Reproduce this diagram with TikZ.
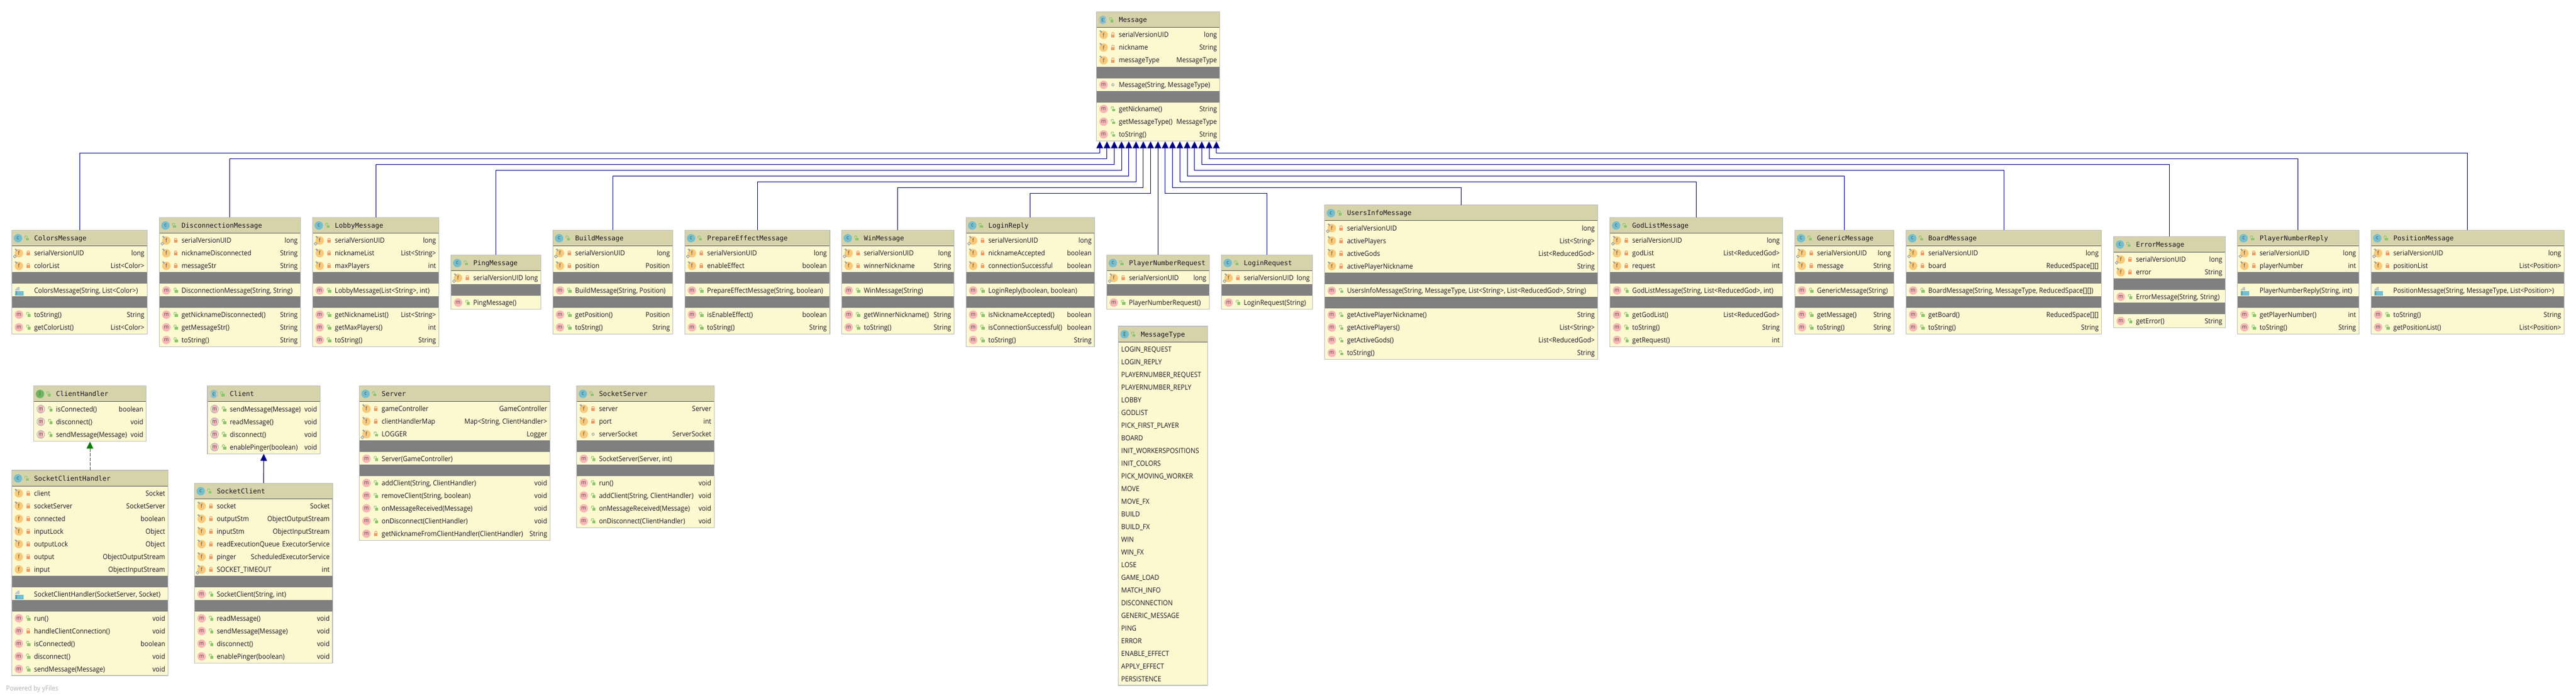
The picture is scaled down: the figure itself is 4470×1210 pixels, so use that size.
\documentclass[tikz,border=0pt]{standalone}
\usepackage{fontspec}
\usetikzlibrary{arrows.meta}
\newfontfamily\rowff[FakeStretch=0.915]{Open Sans}
\newfontfamily\monoff{DejaVu Sans Mono}
\newcommand\rowfont{\rowff\fontsize{12.2}{14}\selectfont}
\newcommand\titlefont{\monoff\fontsize{11.6}{14}\selectfont}
\newcommand\icofont{\rowff\fontsize{9.5}{10}\selectfont}
\definecolor{headc}{HTML}{D6D3AB}
\definecolor{bodyc}{HTML}{FCF9D1}
\definecolor{borderc}{HTML}{BEBEBE}
\definecolor{greyc}{HTML}{808080}
\definecolor{inkc}{HTML}{1A1420}
\definecolor{clsc}{HTML}{74BFCF}
\definecolor{fldc}{HTML}{F9C97A}
\definecolor{mthc}{HTML}{F9B6B6}
\definecolor{ifcc}{HTML}{6FB35F}
\definecolor{privc}{HTML}{F29A63}
\definecolor{pubc}{HTML}{8CC56B}
\definecolor{toolc}{HTML}{9AA0A8}
\definecolor{navyc}{HTML}{000088}
\definecolor{greenc}{HTML}{008000}
\tikzset{
  classbox/.style={draw=borderc,line width=1.4pt,fill=bodyc,inner sep=0pt,outer sep=0pt},
  rowname/.style={font=\rowfont,text=inkc,anchor=base west,inner sep=0pt,outer sep=0pt},
  rowtype/.style={font=\rowfont,text=inkc,anchor=base east,inner sep=0pt,outer sep=0pt},
  titlename/.style={font=\titlefont,text=inkc,anchor=base west,inner sep=0pt,outer sep=0pt},
  iconball/.style={circle,minimum size=14.6pt,inner sep=0pt,outer sep=0pt,font=\icofont,text=black!70},
  inh/.style={draw=navyc,line width=0.9pt,-{Triangle[length=12pt,width=11.5pt,fill=navyc]}},
  impl/.style={draw=greenc,line width=0.9pt,dash pattern=on 6pt off 2pt,-{Triangle[length=12pt,width=11.5pt,fill=greenc]}},
}
\newcounter{tn}
\newcommand\nn{n\arabic{tn}}
\newcommand\stp{\stepcounter{tn}}
% lock icons
\newcommand\Lock[3]{\begin{scope}[shift={(#2,#3)}]%
  \if#1o
    \fill[privc] (-3,-1) rectangle (3,4);
    \draw[privc,line width=1pt] (-2,-1) -- (-2,-3) -- (-1,-4) -- (1,-4) -- (2,-3) -- (2,-1);
  \fi
  \if#1u
    \fill[pubc] (-1.5,-.5) rectangle (4,4);
    \draw[pubc,line width=1pt] (-3,0) -- (-3,-3) -- (-2,-4) -- (0,-4) -- (1,-3) -- (1,-1);
  \fi
  \if#1p
    \draw[toolc,line width=1pt] (0,0) circle (2);
  \fi
\end{scope}}
% round icons
\newcommand\Ball[4]{\stp\node[iconball,fill=#3] (\nn) at (#1,#2) {#4};}
\newcommand\AbsBall[4]{\begin{scope}[shift={(#1,#2)}]
  \clip (0,0) circle (7.3);
  \fill[#3] (-4.3,-8) rectangle (4.3,8);
  \draw[toolc!70,line width=1.4pt] (0,0) circle (6.7);
  \end{scope}
  \stp\node[inner sep=0pt,outer sep=0pt,font=\icofont,text=black!70] (\nn) at (#1,#2) {#4};}
\newcommand\Tool[2]{\begin{scope}[shift={(#1,#2)}]
  \fill[toolc] (-7.5,-7) -- (-5,-8) -- (-2.5,-5) -- (-4,-3.5) -- cycle;
\end{scope}}
\newcommand\Stat[2]{\begin{scope}[shift={(#1,#2)}]
  \draw[toolc,line width=1.1pt] (-7,3) -- (-4.5,5.5) -- (-7,8) -- (-9.5,5.5) -- cycle;
\end{scope}}
\newcommand\JIcon[2]{\begin{scope}[shift={(#1,#2)}]
  \fill[toolc!60] (0,-1) -- (5,-6) -- (8,-6) -- (8,0) -- (0,0) -- cycle;
  \fill[clsc] (0,1) rectangle (15,9);
  \stp\node[inner sep=0pt,outer sep=0pt,font=\fontsize{7}{8}\selectfont\rowff,text=black!80] (\nn) at (3,5) {J};
\end{scope}}
% class box: id, left, top, right, bottom, kind (c a i e), title
\newcommand\ClassBox[7]{%
  \def\xl{#2}\def\xr{#4}%
  \pgfmathsetmacro\bcx{(#2+#4)/2}\pgfmathsetmacro\bcy{(#3+#5)/2}%
  \pgfmathsetmacro\bw{#4-#2}\pgfmathsetmacro\bh{#5-#3}%
  \node[classbox,minimum width=\bw pt,minimum height=\bh pt] (#1) at (\bcx,\bcy) {};
  \fill[headc] ({#2+.6},{#3+.6}) rectangle ({#4-.6},{#3+27});
  \draw[black!65,line width=.9pt] ({#2+.6},{#3+27}) -- ({#4-.6},{#3+27});
  \pgfmathsetmacro\ix{#2+10.8}\pgfmathsetmacro\iy{#3+14}\pgfmathsetmacro\lx{#2+25.6}%
  \if#6c \Ball{\ix}{\iy}{clsc}{c}\fi
  \if#6a \AbsBall{\ix}{\iy}{clsc}{c}\fi
  \if#6i \Ball{\ix}{\iy}{ifcc}{I}\fi
  \if#6e \Ball{\ix}{\iy}{clsc}{E}\fi
  \Lock{u}{\lx}{\iy}
  \pgfmathsetmacro\tx{#2+38.8}\pgfmathsetmacro\ty{#3+18}%
  \stp\node[titlename] (\nn) at (\tx,\ty) {#7};
  \pgfmathsetmacro\cy{#3+29}%
}
\newcommand\RowText[4]{% centre-y, name, type, unused
  \pgfmathsetmacro\tx{\xl+38.8}\pgfmathsetmacro\rx{\xr-5}\pgfmathsetmacro\by{#1+4.4}%
  \stp\node[rowname] (\nn) at (\tx,\by) {#2};
  \stp\node[rowtype] (\nn) at (\rx,\by) {#3};}
% field: mods (s static final, f final, n none), visibility, name, type
\newcommand\F[4]{%
  \pgfmathsetmacro\rc{\cy+11}\pgfmathsetmacro\ix{\xl+12.3}\pgfmathsetmacro\lx{\xl+28.5}%
  \Ball{\ix}{\rc}{fldc}{f}
  \if#1s \Tool{\ix}{\rc}\Stat{\ix}{\rc}\fi
  \if#1f \Tool{\ix}{\rc}\fi
  \Lock{#2}{\lx}{\rc}
  \RowText{\rc}{#3}{#4}{}
  \pgfmathsetmacro\cy{\cy+22}}
% method: visibility (o u p J), name, type; shift of text centre
\newcommand\M[3]{%
  \pgfmathsetmacro\rc{\cy+11.6}\pgfmathsetmacro\ix{\xl+12.3}\pgfmathsetmacro\lx{\xl+28.5}%
  \if#1J \pgfmathsetmacro\jx{\xl+5.5}\JIcon{\jx}{\rc}\else
  \Ball{\ix}{\rc}{mthc}{m}
  \Lock{#1}{\lx}{\rc}\fi
  \RowText{\rc}{#2}{#3}{}
  \pgfmathsetmacro\cy{\cy+22}}
% abstract method
\newcommand\AM[2]{%
  \pgfmathsetmacro\rc{\cy+11.2}\pgfmathsetmacro\ix{\xl+12.3}\pgfmathsetmacro\lx{\xl+28.5}%
  \AbsBall{\ix}{\rc}{mthc}{m}
  \Lock{u}{\lx}{\rc}
  \RowText{\rc}{#1}{#2}{}
  \pgfmathsetmacro\cy{\cy+22}}
\newcommand\G{%
  \fill[greyc] ({\xl+.5},\cy) rectangle ({\xr-.5},{\cy+20});
  \pgfmathsetmacro\cy{\cy+20}}
\newcommand\SV{\F{s}{o}{serialVersionUID}{long}}
\newcommand\EnumRow[1]{%
  \pgfmathsetmacro\rc{\cy+11}\pgfmathsetmacro\tx{\xl+5}\pgfmathsetmacro\by{\rc+4.4}%
  \stp\node[rowname] (\nn) at (\tx,\by) {#1};
  \pgfmathsetmacro\cy{\cy+22}}
\begin{document}
\begin{tikzpicture}[x=1pt,y=-1pt]
\useasboundingbox (0,0) rectangle (4470,1210);
\fill[white] (0,0) rectangle (4470,1210);

% ---- Message
\ClassBox{message}{1902.7}{20.5}{2116.7}{244.5}{a}{Message}
\F{f}{o}{serialVersionUID}{long}\F{f}{o}{nickname}{String}\F{f}{o}{messageType}{MessageType}\G
\M{p}{Message(String, MessageType)}{}\G
\M{u}{getNickname()}{String}\M{u}{getMessageType()}{MessageType}\M{u}{toString()}{String}

% ---- subclasses
\ClassBox{colors}{20.5}{399.3}{255.5}{579.3}{c}{ColorsMessage}
\SV\F{f}{o}{colorList}{List<Color>}\G
\M{J}{ColorsMessage(String, List<Color>)}{}\G
\M{u}{toString()}{String}\M{u}{getColorList()}{List<Color>}

\ClassBox{disconn}{276.3}{377.3}{521.5}{601.3}{c}{DisconnectionMessage}
\SV\F{f}{o}{nicknameDisconnected}{String}\F{f}{o}{messageStr}{String}\G
\M{u}{DisconnectionMessage(String, String)}{}\G
\M{u}{getNicknameDisconnected()}{String}\M{u}{getMessageStr()}{String}\M{u}{toString()}{String}

\ClassBox{lobby}{542.4}{377.3}{761.6}{601.3}{c}{LobbyMessage}
\SV\F{f}{o}{nicknameList}{List<String>}\F{f}{o}{maxPlayers}{int}\G
\M{u}{LobbyMessage(List<String>, int)}{}\G
\M{u}{getNicknameList()}{List<String>}\M{u}{getMaxPlayers()}{int}\M{u}{toString()}{String}

\ClassBox{ping}{782.6}{442.3}{938.4}{536.3}{c}{PingMessage}
\SV\G
\M{u}{PingMessage()}{}

\ClassBox{build}{959.4}{399.3}{1167.4}{579.3}{c}{BuildMessage}
\SV\F{f}{o}{position}{Position}\G
\M{u}{BuildMessage(String, Position)}{}\G
\M{u}{getPosition()}{Position}\M{u}{toString()}{String}

\ClassBox{prepare}{1188.4}{399.3}{1439.8}{579.3}{c}{PrepareEffectMessage}
\SV\F{f}{o}{enableEffect}{boolean}\G
\M{u}{PrepareEffectMessage(String, boolean)}{}\G
\M{u}{isEnableEffect()}{boolean}\M{u}{toString()}{String}

\ClassBox{win}{1460.3}{399.3}{1655.5}{579.3}{c}{WinMessage}
\SV\F{f}{o}{winnerNickname}{String}\G
\M{u}{WinMessage(String)}{}\G
\M{u}{getWinnerNickname()}{String}\M{u}{toString()}{String}

\ClassBox{loginreply}{1676.3}{377.3}{1899.1}{601.3}{c}{LoginReply}
\SV\F{f}{o}{nicknameAccepted}{boolean}\F{f}{o}{connectionSuccessful}{boolean}\G
\M{u}{LoginReply(boolean, boolean)}{}\G
\M{u}{isNicknameAccepted()}{boolean}\M{u}{isConnectionSuccessful()}{boolean}\M{u}{toString()}{String}

\ClassBox{pnrequest}{1920.3}{442.3}{2098.3}{536.3}{c}{PlayerNumberRequest}
\SV\G
\M{u}{PlayerNumberRequest()}{}

\ClassBox{loginrequest}{2119.6}{442.3}{2277.7}{536.3}{c}{LoginRequest}
\SV\G
\M{u}{LoginRequest(String)}{}

\ClassBox{usersinfo}{2298.7}{355.7}{2772.3}{623.7}{c}{UsersInfoMessage}
\SV\F{f}{o}{activePlayers}{List<String>}\F{f}{o}{activeGods}{List<ReducedGod>}\F{f}{o}{activePlayerNickname}{String}\G
\M{u}{UsersInfoMessage(String, MessageType, List<String>, List<ReducedGod>, String)}{}\G
\M{u}{getActivePlayerNickname()}{String}\M{u}{getActivePlayers()}{List<String>}\M{u}{getActiveGods()}{List<ReducedGod>}\M{u}{toString()}{String}

\ClassBox{godlist}{2793.6}{377.3}{3093.3}{601.3}{c}{GodListMessage}
\SV\F{f}{o}{godList}{List<ReducedGod>}\F{f}{o}{request}{int}\G
\M{u}{GodListMessage(String, List<ReducedGod>, int)}{}\G
\M{u}{getGodList()}{List<ReducedGod>}\M{u}{toString()}{String}\M{u}{getRequest()}{int}

\ClassBox{generic}{3114.4}{399.3}{3286.2}{579.3}{c}{GenericMessage}
\SV\F{f}{o}{message}{String}\G
\M{u}{GenericMessage(String)}{}\G
\M{u}{getMessage()}{String}\M{u}{toString()}{String}

\ClassBox{board}{3307.4}{399.3}{3646.6}{579.3}{c}{BoardMessage}
\SV\F{f}{o}{board}{ReducedSpace[][]}\G
\M{u}{BoardMessage(String, MessageType, ReducedSpace[][])}{}\G
\M{u}{getBoard()}{ReducedSpace[][]}\M{u}{toString()}{String}

\ClassBox{errormsg}{3667.7}{410.3}{3861.2}{568.3}{c}{ErrorMessage}
\SV\F{f}{o}{error}{String}\G
\M{u}{ErrorMessage(String, String)}{}\G
\M{u}{getError()}{String}

\ClassBox{pnreply}{3882.3}{399.3}{4093.2}{579.3}{c}{PlayerNumberReply}
\SV\F{f}{o}{playerNumber}{int}\G
\M{J}{PlayerNumberReply(String, int)}{}\G
\M{u}{getPlayerNumber()}{int}\M{u}{toString()}{String}

\ClassBox{positionmsg}{4114.3}{399.3}{4449.3}{579.3}{c}{PositionMessage}
\SV\F{f}{o}{positionList}{List<Position>}\G
\M{J}{PositionMessage(String, MessageType, List<Position>)}{}\G
\M{u}{toString()}{String}\M{u}{getPositionList()}{List<Position>}

% ---- enum
\ClassBox{msgtype}{1940.7}{566}{2095.7}{1189}{e}{MessageType}
\EnumRow{LOGIN\_REQUEST}\EnumRow{LOGIN\_REPLY}\EnumRow{PLAYERNUMBER\_REQUEST}\EnumRow{PLAYERNUMBER\_REPLY}
\EnumRow{LOBBY}\EnumRow{GODLIST}\EnumRow{PICK\_FIRST\_PLAYER}\EnumRow{BOARD}\EnumRow{INIT\_WORKERSPOSITIONS}
\EnumRow{INIT\_COLORS}\EnumRow{PICK\_MOVING\_WORKER}\EnumRow{MOVE}\EnumRow{MOVE\_FX}\EnumRow{BUILD}\EnumRow{BUILD\_FX}
\EnumRow{WIN}\EnumRow{WIN\_FX}\EnumRow{LOSE}\EnumRow{GAME\_LOAD}\EnumRow{MATCH\_INFO}\EnumRow{DISCONNECTION}
\EnumRow{GENERIC\_MESSAGE}\EnumRow{PING}\EnumRow{ERROR}\EnumRow{ENABLE\_EFFECT}\EnumRow{APPLY\_EFFECT}\EnumRow{PERSISTENCE}

% ---- network classes
\ClassBox{clienthandler}{58.6}{669.5}{253.7}{765.5}{i}{ClientHandler}
\AM{isConnected()}{boolean}\AM{disconnect()}{void}\AM{sendMessage(Message)}{void}

\ClassBox{sockethandler}{20.4}{816}{291.6}{1172}{c}{SocketClientHandler}
\F{f}{o}{client}{Socket}\F{f}{o}{socketServer}{SocketServer}\F{n}{o}{connected}{boolean}\F{f}{o}{inputLock}{Object}\F{f}{o}{outputLock}{Object}\F{n}{o}{output}{ObjectOutputStream}\F{n}{o}{input}{ObjectInputStream}\G
\M{J}{SocketClientHandler(SocketServer, Socket)}{}\G
\M{u}{run()}{void}\M{o}{handleClientConnection()}{void}\M{u}{isConnected()}{boolean}\M{u}{disconnect()}{void}\M{u}{sendMessage(Message)}{void}

\ClassBox{client}{360.1}{669.5}{555.3}{787.5}{a}{Client}
\AM{sendMessage(Message)}{void}\AM{readMessage()}{void}\AM{disconnect()}{void}\AM{enablePinger(boolean)}{void}

\ClassBox{socketclient}{337.5}{838.2}{577.1}{1150.2}{c}{SocketClient}
\F{f}{o}{socket}{Socket}\F{f}{o}{outputStm}{ObjectOutputStream}\F{f}{o}{inputStm}{ObjectInputStream}\F{f}{o}{readExecutionQueue}{ExecutorService}\F{f}{o}{pinger}{ScheduledExecutorService}\F{s}{o}{SOCKET\_TIMEOUT}{int}\G
\M{u}{SocketClient(String, int)}{}\G
\M{u}{readMessage()}{void}\M{u}{sendMessage(Message)}{void}\M{u}{disconnect()}{void}\M{u}{enablePinger(boolean)}{void}

\ClassBox{server}{623.6}{669.3}{954.4}{937.3}{c}{Server}
\F{f}{o}{gameController}{GameController}\F{f}{o}{clientHandlerMap}{Map<String, ClientHandler>}\F{s}{u}{LOGGER}{Logger}\G
\M{u}{Server(GameController)}{}\G
\M{u}{addClient(String, ClientHandler)}{void}\M{u}{removeClient(String, boolean)}{void}\M{u}{onMessageReceived(Message)}{void}\M{u}{onDisconnect(ClientHandler)}{void}\M{o}{getNicknameFromClientHandler(ClientHandler)}{String}

\ClassBox{socketserver}{1000.7}{669.3}{1239.3}{915.3}{c}{SocketServer}
\F{f}{o}{server}{Server}\F{f}{o}{port}{int}\F{n}{p}{serverSocket}{ServerSocket}\G
\M{u}{SocketServer(Server, int)}{}\G
\M{u}{run()}{void}\M{u}{addClient(String, ClientHandler)}{void}\M{u}{onMessageReceived(Message)}{void}\M{u}{onDisconnect(ClientHandler)}{void}

\node[font=\rowff\fontsize{12}{14}\selectfont,text=black!30,anchor=base west,inner sep=0pt] (poweredby) at (10.3,1198) {Powered by yFiles};

% ---- arrow ends on Message
\foreach \i/\ax in {1/1908.3,2/1920.9,3/1933.5,4/1946.1,5/1958.7,6/1971.3,7/1983.9,8/1996.5,9/2009.3,10/2021.9,11/2034.6,12/2047.3,13/2060,14/2072.7,15/2085.3,16/2098,17/2110.7}
  {\coordinate (a\i) at (\ax,245.3);}

\draw[inh] (colors.north) |- ([yshift=-19.7pt]a1) -- (a1);
\draw[inh] (disconn.north) |- ([yshift=-29.7pt]a2) -- (a2);
\draw[inh] (lobby.north) |- ([yshift=-39.7pt]a3) -- (a3);
\draw[inh] (ping.north) |- ([yshift=-49.7pt]a4) -- (a4);
\draw[inh] (build.north) |- ([yshift=-59.7pt]a5) -- (a5);
\draw[inh] (prepare.north) |- ([yshift=-69.7pt]a6) -- (a6);
\draw[inh] (win.north) |- ([yshift=-79.7pt]a7) -- (a7);
\draw[inh] (loginreply.north) |- ([yshift=-89.7pt]a8) -- (a8);
\draw[inh] (pnrequest.north) -- (a9);
\draw[inh] (loginrequest.north) |- ([yshift=-89.7pt]a10) -- (a10);
\draw[inh] (usersinfo.north) |- ([yshift=-79.7pt]a11) -- (a11);
\draw[inh] (godlist.north) |- ([yshift=-69.7pt]a12) -- (a12);
\draw[inh] (generic.north) |- ([yshift=-59.7pt]a13) -- (a13);
\draw[inh] (board.north) |- ([yshift=-49.7pt]a14) -- (a14);
\draw[inh] (errormsg.north) |- ([yshift=-39.7pt]a15) -- (a15);
\draw[inh] (pnreply.north) |- ([yshift=-29.7pt]a16) -- (a16);
\draw[inh] (positionmsg.north) |- ([yshift=-19.7pt]a17) -- (a17);

\coordinate (sh) at (156.1,766.3);
\draw[impl] (sockethandler.north -| sh) -- (sh);
\draw[inh] (socketclient.north) -- (client.south);
\end{tikzpicture}
\end{document}
